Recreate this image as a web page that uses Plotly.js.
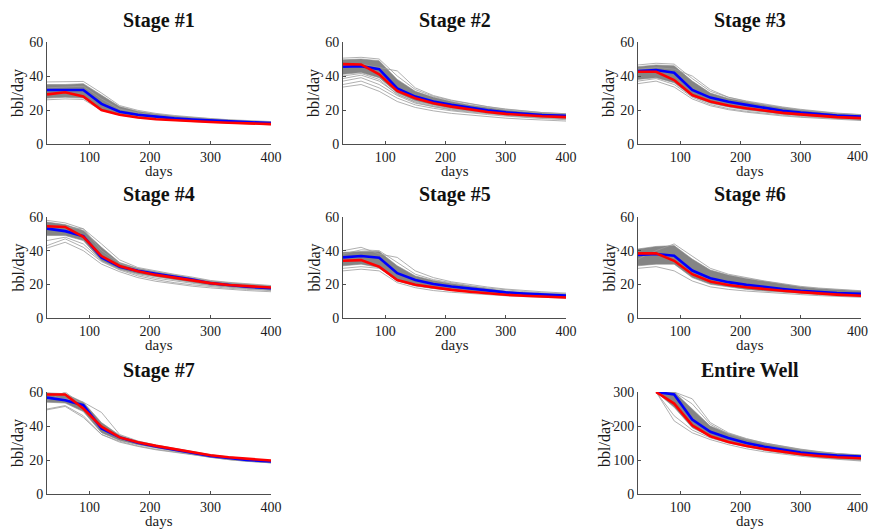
<!DOCTYPE html>
<html>
<head>
<meta charset="utf-8">
<script src="https://cdn.plot.ly/plotly-3.0.1.min.js"></script>
<style>html,body{margin:0;padding:0;background:#fff;}#chart{width:870px;height:529px;}</style>
</head>
<body>
<div id="chart"></div>
<script>
// ---- data ----
const days = [30, 60, 90, 120, 150, 180, 210, 240, 270, 300, 330, 360, 400];
const wellDays = [60, 90, 120, 150, 180, 210, 240, 270, 300, 330, 360, 400];
const titles = ["Stage #1", "Stage #2", "Stage #3", "Stage #4", "Stage #5", "Stage #6", "Stage #7", "Entire Well"];
const stageTicks = [0, 20, 40, 60];
const wellTicks = [0, 100, 200, 300];
const dayTicks = [100, 200, 300, 400];

// Stage 1
const s1Blue = [31.8, 32.0, 31.8, 23.6, 19.0, 17.2, 16.0, 15.1, 14.4, 13.8, 13.3, 12.9, 12.3];
const s1Red  = [29.2, 30.4, 27.9, 20.0, 17.2, 15.6, 14.6, 13.9, 13.3, 12.9, 12.5, 12.1, 11.7];
const s1Hi   = [35.0, 35.0, 35.5, 28.5, 22.0, 19.3, 17.6, 16.4, 15.5, 14.8, 14.1, 13.5, 13.0];
const s1Lo   = [27.0, 27.5, 27.0, 20.5, 17.5, 16.0, 15.0, 14.2, 13.5, 12.9, 12.4, 12.0, 11.4];
const s1Members = [
  [36.5, 36.5, 36.8, 30.0, 22.6, 19.8, 18.0, 16.8, 15.8, 15.0, 14.3, 13.7, 13.2],
  [26.0, 26.5, 26.2, 19.8, 17.0, 15.5, 14.6, 13.8, 13.2, 12.7, 12.2, 11.8, 11.3],
  [33.0, 33.5, 34.0, 26.5, 20.5, 18.3, 16.9, 15.8, 15.0, 14.3, 13.7, 13.2, 12.7]
];
// Stage 2
const s2Blue = [45.4, 45.8, 44.0, 32.7, 27.9, 25.0, 23.0, 21.3, 19.8, 18.6, 17.7, 17.1, 16.6];
const s2Red  = [47.0, 46.8, 41.0, 31.2, 26.9, 24.0, 22.0, 20.2, 18.8, 17.7, 16.9, 16.3, 15.8];
const s2Hi   = [49.5, 50.0, 49.0, 38.0, 31.0, 27.5, 25.0, 23.0, 21.5, 20.0, 19.0, 18.2, 17.5];
const s2Lo   = [41.0, 42.0, 39.0, 30.0, 25.5, 23.0, 21.0, 19.5, 18.3, 17.3, 16.5, 15.8, 15.0];
const s2Members = [
  [33.5, 35.0, 31.0, 25.0, 21.5, 19.5, 18.0, 17.0, 16.0, 15.2, 14.6, 14.0, 13.5],
  [35.0, 37.0, 33.0, 27.0, 23.0, 21.0, 19.5, 18.3, 17.3, 16.4, 15.6, 15.0, 14.3],
  [37.0, 39.0, 35.0, 28.5, 24.0, 21.8, 20.0, 18.8, 17.8, 16.8, 16.0, 15.4, 14.8],
  [38.5, 40.5, 37.0, 29.5, 24.5, 22.0, 20.4, 19.2, 18.0, 17.0, 16.2, 15.5, 15.0],
  [40.0, 41.5, 38.0, 29.0, 25.0, 22.5, 20.8, 19.4, 18.3, 17.4, 16.6, 16.0, 15.3],
  [45.0, 47.0, 45.0, 43.0, 33.0, 28.5, 25.8, 23.8, 22.0, 20.6, 19.5, 18.5, 17.8],
  [50.5, 51.0, 50.0, 40.0, 32.0, 28.0, 25.5, 23.5, 21.9, 20.4, 19.3, 18.5, 17.8]
];
// Stage 3
const s3Blue = [42.9, 43.5, 41.9, 31.8, 27.3, 24.8, 23.0, 21.3, 19.6, 18.5, 17.5, 16.8, 16.2];
const s3Red  = [42.5, 42.5, 37.6, 28.8, 25.0, 22.7, 21.0, 19.5, 18.3, 17.4, 16.5, 15.8, 15.2];
const s3Hi   = [45.5, 46.5, 46.0, 37.0, 30.0, 26.8, 24.8, 23.0, 21.3, 20.0, 18.8, 17.8, 16.8];
const s3Lo   = [38.0, 39.0, 36.0, 28.0, 24.0, 21.7, 20.0, 18.6, 17.5, 16.6, 15.8, 15.0, 14.2];
const s3Members = [
  [35.5, 37.0, 33.5, 26.5, 22.5, 20.2, 18.7, 17.5, 16.5, 15.7, 15.0, 14.4, 13.8],
  [37.0, 38.5, 35.0, 27.5, 23.2, 20.8, 19.2, 18.0, 17.0, 16.1, 15.4, 14.8, 14.2],
  [44.0, 45.0, 44.0, 40.0, 32.0, 27.5, 25.0, 23.0, 21.5, 20.0, 19.0, 18.0, 17.2],
  [46.5, 47.5, 47.0, 38.5, 31.0, 27.5, 25.3, 23.4, 21.8, 20.4, 19.2, 18.2, 17.3]
];
// Stage 4
const s4Blue = [53.1, 51.6, 48.6, 36.0, 30.5, 28.0, 26.2, 24.5, 22.9, 20.7, 19.6, 18.6, 17.7];
const s4Red  = [54.5, 54.1, 48.2, 36.8, 30.9, 27.8, 25.6, 24.0, 22.5, 20.7, 19.6, 18.8, 18.1];
const s4Hi   = [57.0, 55.5, 52.0, 42.0, 33.0, 29.5, 27.5, 25.8, 24.0, 22.0, 20.9, 19.9, 19.0];
const s4Lo   = [49.0, 49.0, 46.0, 34.0, 29.0, 26.3, 24.5, 22.8, 21.2, 19.5, 18.4, 17.4, 16.5];
const s4Members = [
  [41.5, 45.0, 40.0, 32.0, 27.5, 24.0, 21.8, 20.2, 18.9, 17.9, 17.0, 16.3, 15.6],
  [43.0, 47.0, 42.0, 33.5, 28.5, 25.0, 22.8, 21.0, 19.7, 18.6, 17.7, 17.0, 16.3],
  [46.0, 48.0, 44.0, 34.0, 29.0, 25.8, 23.7, 22.0, 20.6, 19.3, 18.3, 17.5, 16.8],
  [55.0, 54.0, 53.0, 44.0, 34.5, 30.0, 27.8, 26.0, 24.3, 22.3, 21.2, 20.2, 19.3],
  [58.0, 56.5, 53.0, 40.0, 32.5, 29.0, 27.0, 25.3, 23.6, 21.7, 20.6, 19.6, 18.7]
];
// Stage 5
const s5Blue = [36.0, 36.8, 35.8, 26.6, 22.6, 20.2, 18.7, 17.4, 16.2, 15.2, 14.5, 13.9, 13.4];
const s5Red  = [34.0, 34.4, 30.5, 22.6, 19.7, 18.0, 16.7, 15.6, 14.6, 13.8, 13.2, 12.7, 12.2];
const s5Hi   = [39.0, 39.5, 39.5, 31.0, 25.0, 22.3, 20.5, 19.0, 17.4, 16.0, 15.2, 14.6, 14.0];
const s5Lo   = [31.0, 32.0, 30.0, 22.0, 19.0, 17.5, 16.5, 15.5, 14.6, 13.8, 13.1, 12.6, 12.0];
const s5Members = [
  [40.0, 42.0, 38.0, 36.0, 28.0, 24.0, 21.5, 19.8, 18.4, 17.2, 16.3, 15.6, 14.8],
  [28.0, 29.0, 28.0, 21.0, 18.0, 16.3, 15.3, 14.5, 13.8, 13.2, 12.7, 12.3, 11.8],
  [29.5, 30.5, 29.5, 23.0, 19.5, 17.6, 16.4, 15.4, 14.6, 13.9, 13.3, 12.8, 12.3],
  [38.0, 40.5, 40.0, 33.0, 26.0, 22.8, 20.8, 19.2, 17.8, 16.6, 15.7, 15.0, 14.4]
];
// Stage 6
const s6Blue = [37.4, 38.0, 37.0, 28.2, 23.6, 21.3, 19.7, 18.3, 17.2, 16.1, 15.4, 14.8, 14.4];
const s6Red  = [38.4, 38.4, 34.0, 26.0, 21.7, 19.6, 18.3, 17.1, 16.2, 15.4, 14.6, 13.9, 13.2];
const s6Hi   = [41.0, 42.5, 43.0, 35.0, 28.5, 25.5, 23.5, 21.8, 20.2, 18.5, 17.5, 16.7, 16.0];
const s6Lo   = [31.0, 32.0, 32.0, 24.0, 20.0, 18.3, 17.0, 16.0, 15.2, 14.5, 13.9, 13.3, 12.8];
const s6Members = [
  [29.5, 30.5, 28.0, 22.0, 18.5, 17.0, 16.0, 15.2, 14.5, 13.9, 13.3, 12.8, 12.3],
  [35.0, 40.0, 44.0, 37.0, 29.5, 26.0, 23.8, 22.0, 20.4, 18.8, 17.8, 17.0, 16.2]
];
// Stage 7
const s7Blue = [56.7, 55.2, 52.2, 38.6, 33.3, 30.2, 27.9, 26.0, 24.0, 22.4, 21.2, 20.1, 19.1];
const s7Red  = [58.5, 58.5, 50.3, 39.6, 33.3, 30.4, 28.3, 26.4, 24.4, 22.8, 21.6, 20.6, 19.7];
const s7Hi   = [59.5, 59.0, 54.0, 42.0, 34.5, 31.0, 28.7, 26.7, 24.7, 23.0, 21.7, 20.6, 19.5];
const s7Lo   = [54.0, 53.5, 48.5, 36.0, 31.5, 29.0, 27.0, 25.2, 23.3, 21.5, 20.3, 19.3, 18.3];
const s7Members = [
  [50.0, 52.0, 46.0, 35.0, 31.0, 28.3, 26.3, 24.8, 23.0, 21.4, 20.3, 19.3, 18.4],
  [49.5, 51.5, 45.0, 35.0, 30.5, 28.0, 26.0, 24.5, 22.8, 21.3, 20.2, 19.2, 18.3],
  [57.0, 56.0, 54.0, 48.0, 35.0, 31.2, 28.8, 26.8, 24.8, 23.1, 21.8, 20.7, 19.6],
  [55.0, 60.0, 52.0, 40.0, 33.5, 30.3, 28.2, 26.3, 24.3, 22.6, 21.4, 20.3, 19.3]
];
// Entire well
const wBlue = [300, 293, 219, 183, 165, 150, 139, 130, 122, 117, 113, 110];
const wRed  = [300, 266, 202, 170, 153, 141, 132, 124, 117, 112, 108, 105];
const wHi   = [300, 300, 250, 200, 178, 162, 150, 140, 131, 124, 119, 115];
const wLo   = [300, 255, 195, 168, 152, 140, 130, 122, 114, 108, 104, 100];
const wMembers = [
  [300, 300, 280, 210, 180, 163, 150, 140, 132, 125, 119, 114],
  [300, 215, 180, 160, 145, 133, 124, 117, 111, 106, 102, 97],
  [300, 230, 188, 165, 150, 138, 128, 120, 113, 108, 104, 99],
  [300, 300, 265, 205, 176, 160, 148, 138, 130, 123, 118, 113]
];

const stages = [
  {blue: s1Blue, red: s1Red, hi: s1Hi, lo: s1Lo, mem: s1Members},
  {blue: s2Blue, red: s2Red, hi: s2Hi, lo: s2Lo, mem: s2Members},
  {blue: s3Blue, red: s3Red, hi: s3Hi, lo: s3Lo, mem: s3Members},
  {blue: s4Blue, red: s4Red, hi: s4Hi, lo: s4Lo, mem: s4Members},
  {blue: s5Blue, red: s5Red, hi: s5Hi, lo: s5Lo, mem: s5Members},
  {blue: s6Blue, red: s6Red, hi: s6Hi, lo: s6Lo, mem: s6Members},
  {blue: s7Blue, red: s7Red, hi: s7Hi, lo: s7Lo, mem: s7Members},
  null,
  {blue: wBlue, red: wRed, hi: wHi, lo: wLo, mem: wMembers, well: true}
];

// ---- layout geometry (pixels) ----
const W = 870, H = 529;
const colPx = [[47, 271], [343, 566], [638, 861]];
const rowPx = [[42, 144], [217, 318], [392, 494]];
const titleY = [20, 195, 370];
const daysY = [171, 345, 521];
const ylabX = [18, 314, 609];
const serif = "Liberation Serif, Times New Roman, serif";

const traces = [];
const layout = {
  width: W, height: H,
  margin: {l: 0, r: 0, t: 0, b: 0},
  paper_bgcolor: "#fff", plot_bgcolor: "#fff",
  showlegend: false,
  annotations: []
};

let axN = 0;
stages.forEach((st, idx) => {
  if (!st) return;
  axN += 1;
  const r = Math.floor(idx / 3), c = idx % 3;
  const xs = st.well ? wellDays : days;
  const xa = "x" + (axN === 1 ? "" : axN), ya = "y" + (axN === 1 ? "" : axN);
  const gray = {color: "#8a8a8a", width: 0.6};
  traces.push({x: xs, y: st.lo, xaxis: xa, yaxis: ya, mode: "lines", line: gray, hoverinfo: "skip"});
  traces.push({x: xs, y: st.hi, xaxis: xa, yaxis: ya, mode: "lines", line: gray, fill: "tonexty", fillcolor: "#858585", hoverinfo: "skip"});
  st.mem.forEach(m => traces.push({x: xs, y: m, xaxis: xa, yaxis: ya, mode: "lines", line: {color: "#9c9c9c", width: 0.8}, hoverinfo: "skip"}));
  traces.push({x: xs, y: st.blue, xaxis: xa, yaxis: ya, mode: "lines", line: {color: "#0000ff", width: 2.6}});
  traces.push({x: xs, y: st.red, xaxis: xa, yaxis: ya, mode: "lines", line: {color: "#ff0000", width: 2.6}});

  const tickfont = {family: serif, size: 14, color: "#1a1a1a"};
  const axBase = {showline: true, linecolor: "#4d4d4d", linewidth: 1, ticks: "inside", ticklen: 3,
                  tickcolor: "#4d4d4d", showgrid: false, zeroline: false, tickfont: tickfont, fixedrange: true,
                  ticklabeloverflow: "allow"};
  const xKey = "xaxis" + (axN === 1 ? "" : axN), yKey = "yaxis" + (axN === 1 ? "" : axN);
  // right-column axes: the last label would run past the page edge, so it is drawn as an annotation kept inside
  const lastCut = c === 2;
  layout[xKey] = Object.assign({}, axBase, {
    domain: [colPx[c][0] / W, colPx[c][1] / W], range: [30, 400],
    tickvals: dayTicks, ticktext: dayTicks.map(v => (lastCut && v === 400) ? "" : String(v)), anchor: ya
  });
  if (lastCut) {
    layout.annotations.push({text: String(dayTicks[dayTicks.length - 1]), xref: "paper", yref: "paper",
      x: 869 / W, y: 1 - (rowPx[r][1] + 13) / H, xanchor: "right", yanchor: "middle",
      showarrow: false, font: tickfont, borderpad: 0});
  }
  layout[yKey] = Object.assign({}, axBase, {
    domain: [1 - rowPx[r][1] / H, 1 - rowPx[r][0] / H],
    range: st.well ? [0, 300] : [0, 60], tickvals: st.well ? wellTicks : stageTicks, anchor: xa
  });
  const cx = (colPx[c][0] + colPx[c][1]) / 2 / W;
  layout.annotations.push({text: "<b>" + titles[idx === 8 ? 7 : idx] + "</b>", xref: "paper", yref: "paper",
    x: cx, y: 1 - titleY[r] / H, xanchor: "center", yanchor: "middle", showarrow: false,
    font: {family: serif, size: 20, color: "#111"}});
  layout.annotations.push({text: "days", xref: "paper", yref: "paper",
    x: cx, y: 1 - daysY[r] / H, xanchor: "center", yanchor: "middle", showarrow: false,
    font: {family: serif, size: 15, color: "#1a1a1a"}});
  layout.annotations.push({text: "bbl/day", xref: "paper", yref: "paper", textangle: -90,
    x: (st.well ? ylabX[c] - 4 : ylabX[c]) / W, y: 1 - (rowPx[r][0] + rowPx[r][1]) / 2 / H,
    xanchor: "center", yanchor: "middle", showarrow: false,
    font: {family: serif, size: 16, color: "#1a1a1a"}});
});

Plotly.newPlot("chart", traces, layout, {displayModeBar: false, staticPlot: true});
</script>
</body>
</html>
